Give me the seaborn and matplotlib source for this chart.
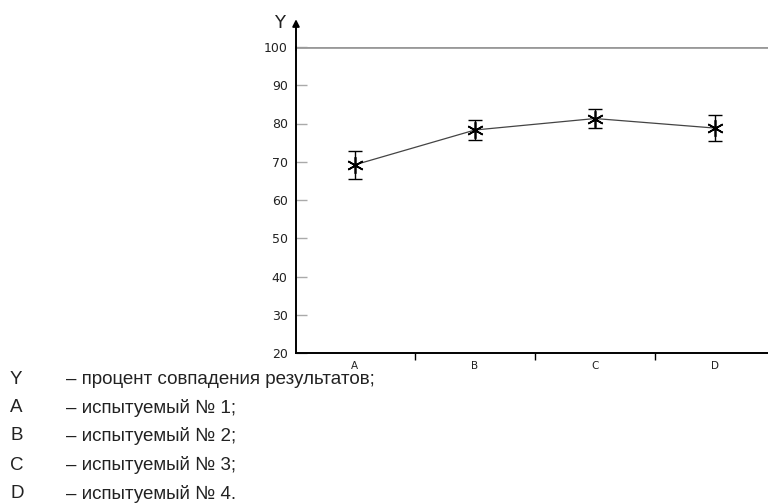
import numpy as np
import pandas as pd
import seaborn as sns
import matplotlib.pyplot as plt

# values
subjects = ["A", "B", "C", "D"]
match_pct = [69.2, 78.3, 81.3, 78.8]
match_err = [3.6, 2.7, 2.6, 3.4]
y_ticks = [20, 30, 40, 50, 60, 70, 80, 90, 100]
legend_keys = ["Y", "A", "B", "C", "D"]
legend_texts = [
    "– процент совпадения результатов;",
    "– испытуемый № 1;",
    "– испытуемый № 2;",
    "– испытуемый № 3;",
    "– испытуемый № 4.",
]

sns.set_style("white")
plt.rcParams["font.family"] = ["Liberation Sans", "DejaVu Sans"]

df = pd.DataFrame({"subject": subjects, "pct": match_pct, "err": match_err})

fig = plt.figure(figsize=(7.68, 5.03), dpi=100)
ax = fig.add_axes([296 / 768, 1 - 353 / 503, 1 - 296 / 768, (353 - 47) / 503])

sns.lineplot(data=df, x="subject", y="pct", ax=ax, color="#444444", lw=0.9,
             marker=(6, 2, 0), markersize=12, markeredgewidth=1.2,
             markeredgecolor="black", sort=False)
ax.errorbar(np.arange(len(subjects)), df["pct"], yerr=df["err"], fmt="none",
            ecolor="black", elinewidth=1.0, capsize=5, capthick=1.0)

ax.axhline(100, color="#999999", lw=2.0, zorder=1)

ax.set_xlim(-0.49, 3.44)
ax.set_ylim(20, 100)
ax.set_xlabel("")
ax.set_ylabel("")

for side in ["top", "right"]:
    ax.spines[side].set_visible(False)
for side in ["left", "bottom"]:
    ax.spines[side].set_linewidth(1.4)
    ax.spines[side].set_color("black")

# y axis arrow up to the "Y" label
ax.annotate("", xy=(0, 1.1), xycoords="axes fraction", xytext=(0, 0.98),
            arrowprops=dict(arrowstyle="-|>", color="black", lw=1.4,
                            mutation_scale=10), annotation_clip=False)
ax.text(-0.034, 1.08, "Y", transform=ax.transAxes, fontsize=13,
        family="DejaVu Sans", ha="center", va="center", color="#222222")

ax.set_yticks(y_ticks)
ax.set_yticklabels([str(t) for t in y_ticks], family="DejaVu Sans",
                   fontsize=9, color="#222222")
ax.tick_params(axis="y", direction="in", length=8, width=1.0,
               color="#aaaaaa", pad=6, left=True)

ax.set_xticks(np.arange(len(subjects)))
ax.set_xticklabels(subjects, family="DejaVu Sans", fontsize=7.5,
                   color="#222222")
ax.tick_params(axis="x", which="major", length=0, pad=6)
ax.set_xticks([0.5, 1.5, 2.5], minor=True)
ax.tick_params(axis="x", which="minor", direction="out", length=5,
               width=1.0, color="black", bottom=True)

# legend lines under the chart
row_y = [380, 408, 436, 465, 494]
for key, txt, yy in zip(legend_keys, legend_texts, row_y):
    fig.text(10 / 768, 1 - yy / 503, key, fontsize=13.5, va="center",
             color="#222222")
    fig.text(66 / 768, 1 - yy / 503, txt, fontsize=13.5, va="center",
             color="#222222")

fig.savefig("out.png", dpi=100)
